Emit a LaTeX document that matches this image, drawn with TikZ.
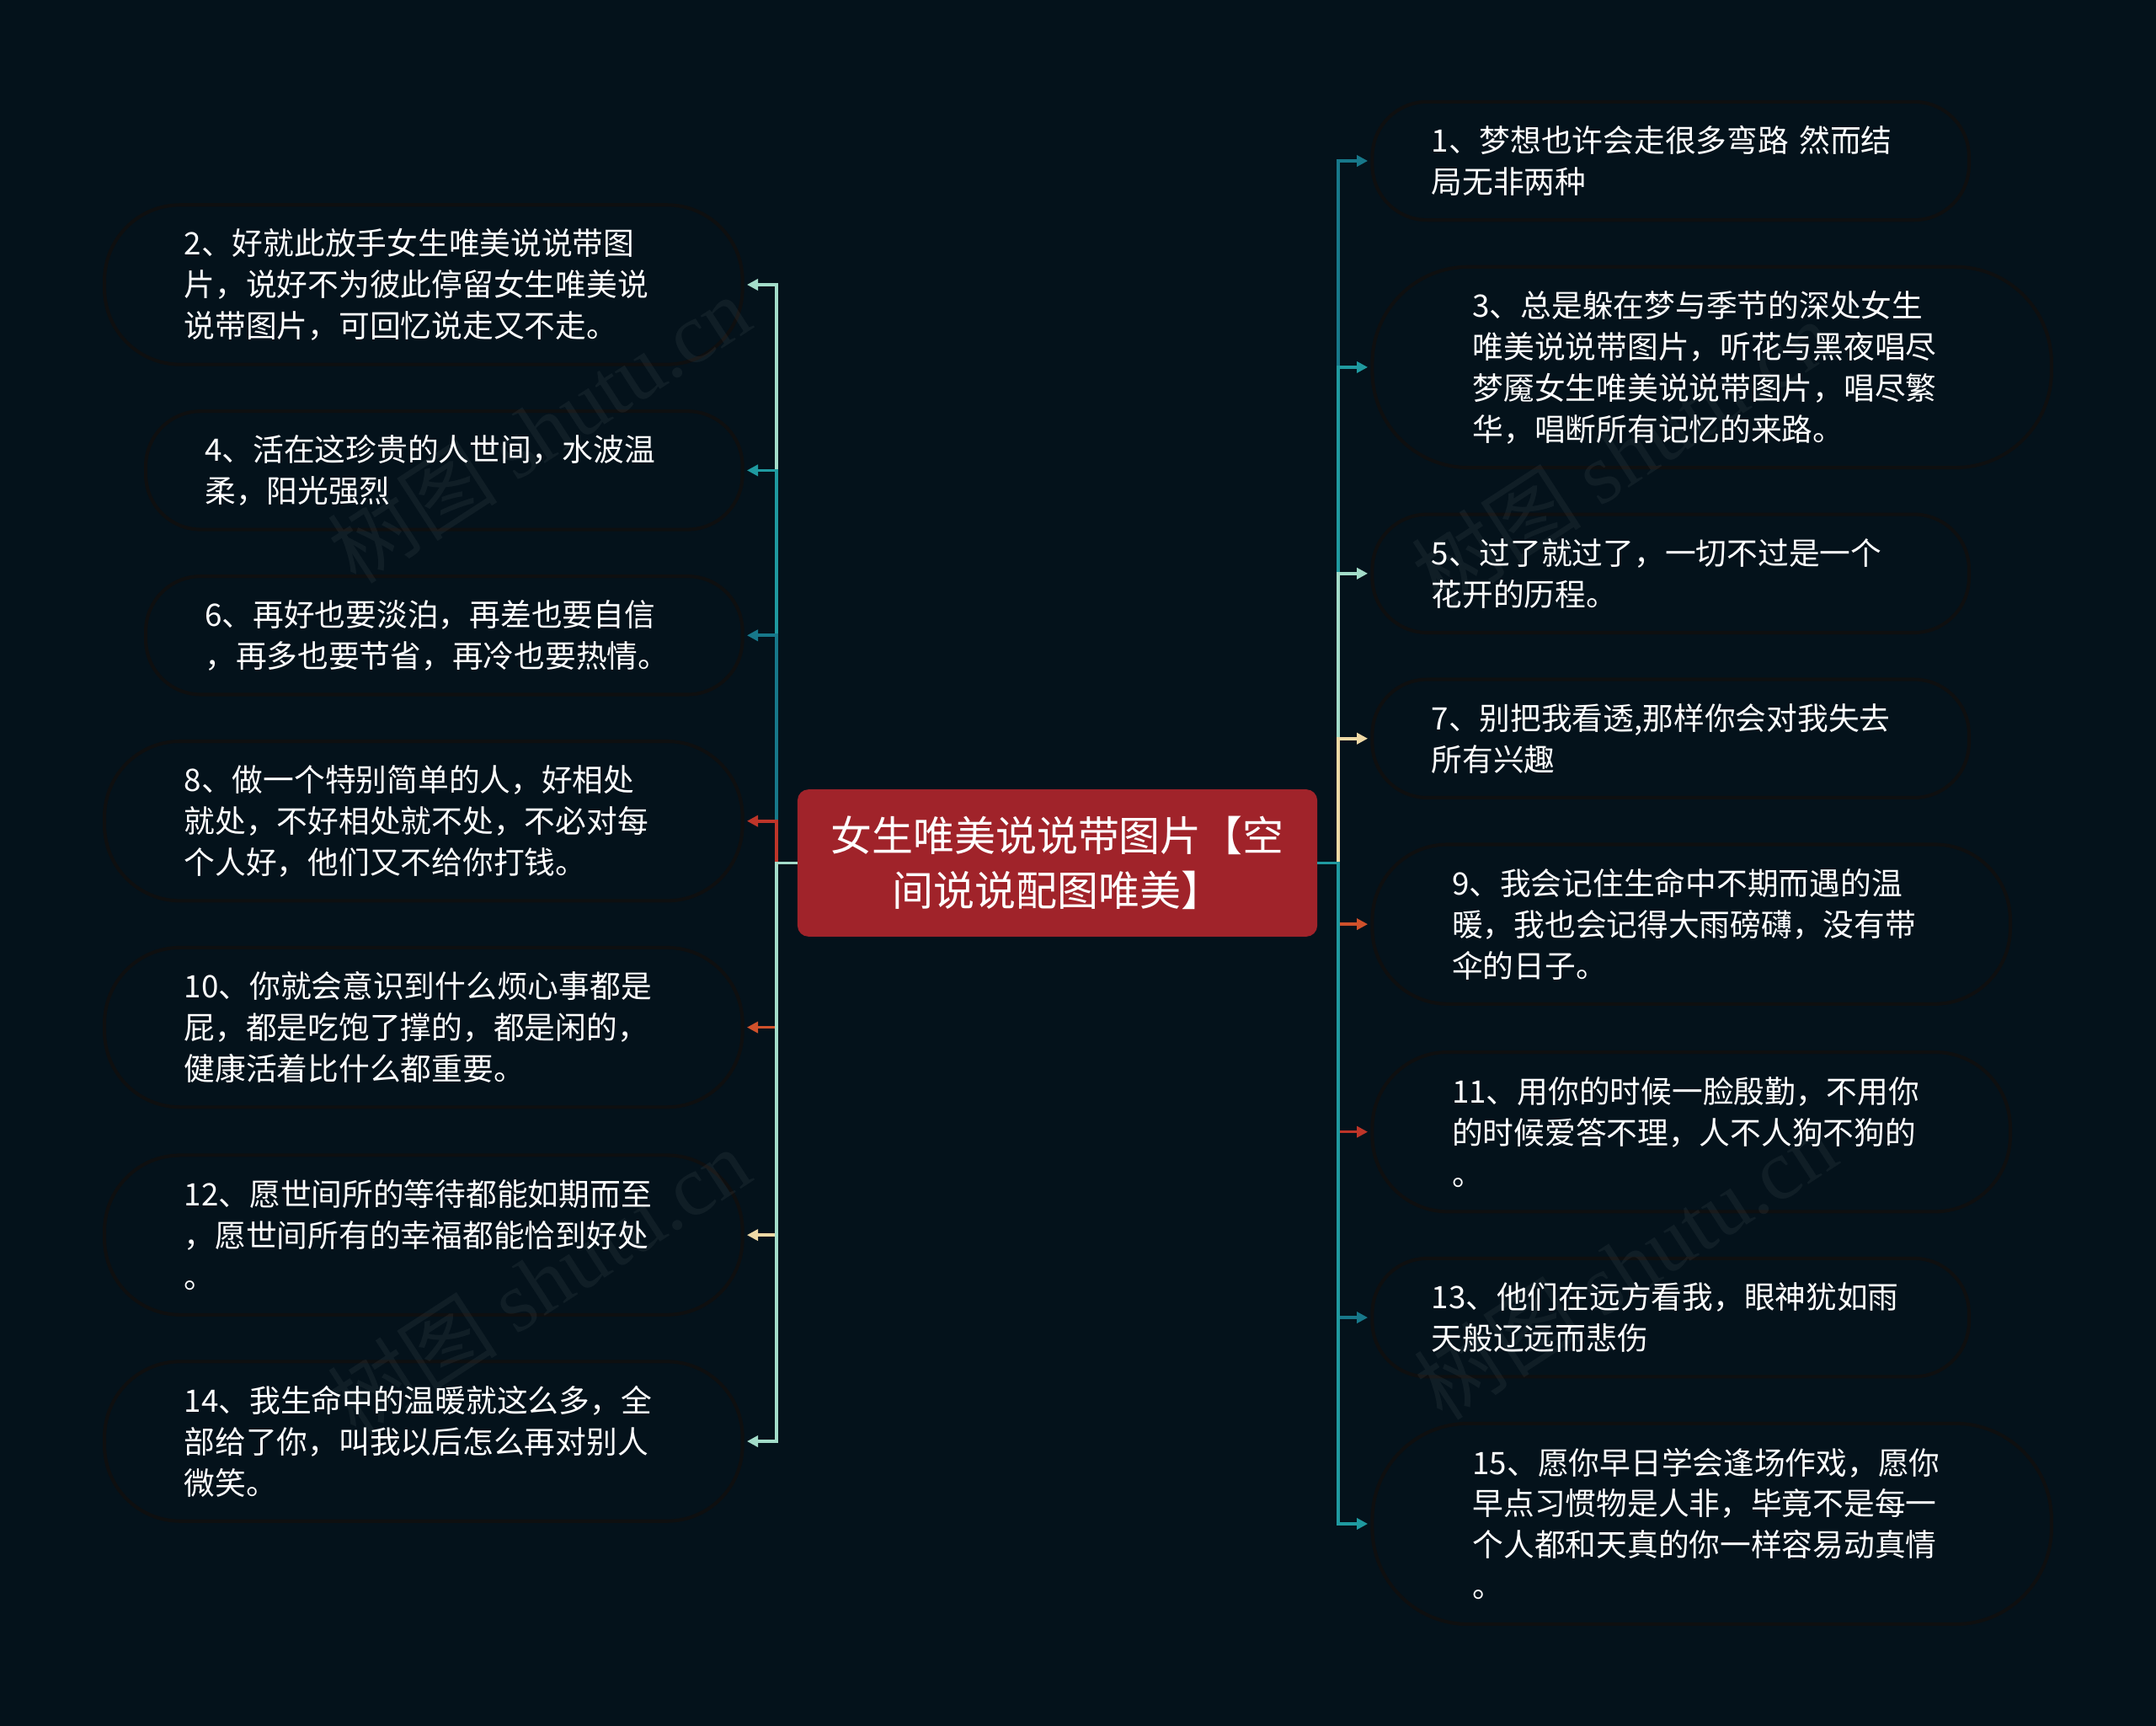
\documentclass[tikz,border=0pt]{standalone}
\usepackage{fontspec}
\setmainfont{Noto Sans CJK SC}
\newfontfamily\wmserif{Liberation Serif}
\usetikzlibrary{arrows.meta}
\definecolor{bg}{HTML}{04121B}
\definecolor{edge}{HTML}{0E0F10}
\definecolor{ctr}{HTML}{A0232A}
\definecolor{cmint}{HTML}{A3DCC9}
\definecolor{cteal}{HTML}{1F9AA0}
\definecolor{cdteal}{HTML}{17788A}
\definecolor{cred}{HTML}{BE3529}
\definecolor{corange}{HTML}{D0512B}
\definecolor{cbeige}{HTML}{EFD9A5}
\tikzset{
  bx/.style={draw=edge, line width=2.5pt, fill=bg, text=white, align=left,
    text width=348pt, inner ysep=0pt, font=\fontsize{22.5pt}{30pt}\selectfont},
  two/.style={bx, minimum height=86pt, inner xsep=43pt, rounded corners=40pt},
  three/.style={bx, minimum height=116pt, inner xsep=58pt, rounded corners=55pt},
  four/.style={bx, minimum height=146pt, inner xsep=73pt, rounded corners=70pt},
  cn/.style={line width=2.2pt, -{Triangle[length=8pt,width=8pt]}, shorten >=2pt},
  wm/.style={rotate=33, text=white, opacity=0.05, font=\fontsize{62pt}{62pt}\selectfont}
}
\begin{document}
\begin{tikzpicture}[x=1pt,y=-1pt]
\fill[bg] (0,0) rectangle (1568,1255);
\useasboundingbox (0,0) rectangle (1568,1255);

\node[fill=ctr, rounded corners=8pt, minimum width=378pt, minimum height=107pt,
  text=white, align=center, inner sep=0pt,
  font=\fontsize{30pt}{40pt}\selectfont] (c) at (769,627.5)
  {女生唯美说说带图片【空\\间说说配图唯美】};

% left nodes
\node[three] (n2) at (308,207) {2、好就此放手女生唯美说说带图\\片，说好不为彼此停留女生唯美说\\说带图片，可回忆说走又不走。};
\node[two] (n4) at (323,342) {4、活在这珍贵的人世间，水波温\\柔，阳光强烈};
\node[two] (n6) at (323,462) {6、再好也要淡泊，再差也要自信\\，再多也要节省，再冷也要热情。};
\node[three] (n8) at (308,597) {8、做一个特别简单的人，好相处\\就处，不好相处就不处，不必对每\\个人好，他们又不给你打钱。};
\node[three] (n10) at (308,747) {10、你就会意识到什么烦心事都是\\屁，都是吃饱了撑的，都是闲的，\\健康活着比什么都重要。};
\node[three] (n12) at (308,898) {12、愿世间所的等待都能如期而至\\，愿世间所有的幸福都能恰到好处\\。};
\node[three] (n14) at (308,1048) {14、我生命中的温暖就这么多，全\\部给了你，叫我以后怎么再对别人\\微笑。};

% right nodes
\node[two] (n1) at (1215,117) {1、梦想也许会走很多弯路 然而结\\局无非两种};
\node[four] (n3) at (1245,267) {3、总是躲在梦与季节的深处女生\\唯美说说带图片，听花与黑夜唱尽\\梦魇女生唯美说说带图片，唱尽繁\\华，唱断所有记忆的来路。};
\node[two] (n5) at (1215,417) {5、过了就过了，一切不过是一个\\花开的历程。};
\node[two] (n7) at (1215,537) {7、别把我看透,那样你会对我失去\\所有兴趣};
\node[three] (n9) at (1230,672) {9、我会记住生命中不期而遇的温\\暖，我也会记得大雨磅礴，没有带\\伞的日子。};
\node[three] (n11) at (1230,823) {11、用你的时候一脸殷勤，不用你\\的时候爱答不理，人不人狗不狗的\\。};
\node[two] (n13) at (1215,958) {13、他们在远方看我，眼神犹如雨\\天般辽远而悲伤};
\node[four] (n15) at (1245,1108) {15、愿你早日学会逢场作戏，愿你\\早点习惯物是人非，毕竟不是每一\\个人都和天真的你一样容易动真情\\。};

% connectors (drawn in order, later ones on top)
\draw[cn, cdteal]  (c.east) -- ++(15,0) |- (n1.west);
\draw[cn, cmint]   (c.west) -- ++(-15,0) |- (n2.east);
\draw[cn, cteal]   (c.east) -- ++(15,0) |- (n3.west);
\draw[cn, cteal]   (c.west) -- ++(-15,0) |- (n4.east);
\draw[cn, cmint]   (c.east) -- ++(15,0) |- (n5.west);
\draw[cn, cdteal]  (c.west) -- ++(-15,0) |- (n6.east);
\draw[cn, cbeige]  (c.east) -- ++(15,0) |- (n7.west);
\draw[cn, cred]    (c.west) -- ++(-15,0) |- (n8.east);
\draw[cn, corange] (c.east) -- ++(15,0) |- (n9.west);
\draw[cn, corange] (c.west) -- ++(-15,0) |- (n10.east);
\draw[cn, cred]    (c.east) -- ++(15,0) |- (n11.west);
\draw[cn, cbeige]  (c.west) -- ++(-15,0) |- (n12.east);
\draw[cn, cdteal]  (c.east) -- ++(15,0) |- (n13.west);
\draw[cn, cmint]   (c.west) -- ++(-15,0) |- (n14.east);
\draw[cn, cteal]   (c.east) -- ++(15,0) |- (n15.west);

% watermarks
\node[wm] (w1) at (392,312) {树图 {\wmserif shutu.cn}};
\node[wm] (w2) at (1180,330) {树图 {\wmserif shutu.cn}};
\node[wm] (w3) at (392,932) {树图 {\wmserif shutu.cn}};
\node[wm] (w4) at (1182,920) {树图 {\wmserif shutu.cn}};
\end{tikzpicture}
\end{document}
